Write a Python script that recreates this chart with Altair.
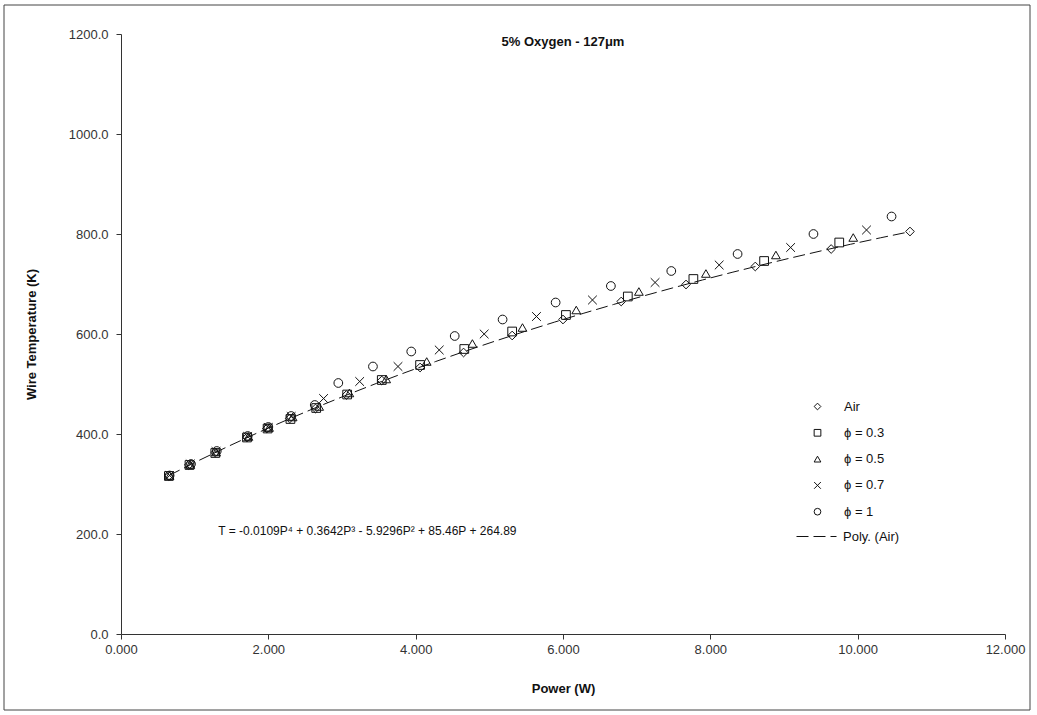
import altair as alt
import pandas as pd

series_names = ["Air", "ϕ = 0.3", "ϕ = 0.5", "ϕ = 0.7", "ϕ = 1"]

air_p = [0.65, 0.92, 1.28, 1.71, 1.98, 2.29, 2.64, 3.06, 3.54, 4.06, 4.65, 5.31, 6.00, 6.79, 7.67, 8.61, 9.64, 10.71]
air_t = [316, 338, 363, 393, 411, 431, 451, 478, 507, 533, 563, 597, 629, 665, 699, 735, 770, 805]

phi03_p = [0.65, 0.93, 1.28, 1.71, 1.99, 2.30, 2.65, 3.07, 3.54, 4.06, 4.66, 5.31, 6.04, 6.88, 7.77, 8.73, 9.75]
phi03_t = [316, 338, 362, 393, 411, 430, 452, 479, 508, 538, 570, 605, 638, 675, 710, 746, 783]

phi05_p = [0.66, 0.94, 1.29, 1.73, 2.01, 2.33, 2.69, 3.10, 3.60, 4.15, 4.77, 5.45, 6.18, 7.03, 7.94, 8.89, 9.94]
phi05_t = [317, 339, 364, 395, 413, 434, 455, 482, 510, 545, 581, 613, 648, 685, 721, 758, 793]

phi07_p = [0.66, 0.94, 1.29, 1.72, 2.00, 2.31, 2.75, 3.24, 3.76, 4.32, 4.93, 5.64, 6.40, 7.25, 8.12, 9.09, 10.12]
phi07_t = [317, 340, 365, 395, 413, 435, 471, 505, 535, 568, 600, 635, 668, 703, 738, 773, 808]

phi1_p = [0.66, 0.95, 1.30, 1.72, 2.00, 2.31, 2.63, 2.95, 3.42, 3.94, 4.53, 5.18, 5.90, 6.65, 7.47, 8.37, 9.40, 10.46]
phi1_t = [317, 340, 366, 396, 414, 436, 458, 502, 535, 565, 596, 629, 663, 696, 726, 760, 800, 835]

x_ticks = [0, 2, 4, 6, 8, 10, 12]
y_ticks = [0, 200, 400, 600, 800, 1000, 1200]

title_text = "5% Oxygen - 127μm"
equation = "T = -0.0109P⁴ + 0.3642P³ - 5.9296P² + 85.46P + 264.89"
trend_name = "Poly. (Air)"

rows = []
for name, ps, ts in zip(series_names,
                        [air_p, phi03_p, phi05_p, phi07_p, phi1_p],
                        [air_t, phi03_t, phi05_t, phi07_t, phi1_t]):
    for p, t in zip(ps, ts):
        rows.append({"P": p, "T": t, "series": name})
df = pd.DataFrame(rows)
air_df = pd.DataFrame({"P": air_p, "T": air_t})

FONT = "Liberation Sans"
x_cross = "M-1,-1L1,1M-1,1L1,-1"

xscale = alt.Scale(domain=[0, 12], nice=False, zero=False)
yscale = alt.Scale(domain=[0, 1200], nice=False)

xaxis = alt.Axis(values=x_ticks, format=".3f", title="Power (W)", titlePadding=26,
                 grid=False, labelFlush=False, labelPadding=4)
yaxis = alt.Axis(values=y_ticks, format=".1f", title="Wire Temperature (K)", titlePadding=30,
                 grid=False, labelFlush=False, labelPadding=8)

points = alt.Chart(df).mark_point(filled=False, color="#111", strokeWidth=1, size=76, opacity=1).encode(
    x=alt.X("P:Q", scale=xscale, axis=xaxis),
    y=alt.Y("T:Q", scale=yscale, axis=yaxis),
    shape=alt.Shape(
        "series:N",
        scale=alt.Scale(domain=series_names,
                        range=["diamond", "square", "triangle-up", x_cross, "circle"]),
        legend=alt.Legend(
            title=None, orient="none", legendX=690, legendY=366,
            symbolSize=45, symbolStrokeColor="#111", symbolFillColor="transparent",
            symbolStrokeWidth=1, labelFont=FONT, labelFontSize=13, labelColor="#111",
            labelOffset=20, rowPadding=12.3, padding=0,
        ),
    ),
)

trend = alt.Chart(air_df).transform_regression(
    "P", "T", method="poly", order=4
).transform_calculate(
    series=f"'{trend_name}'"
).mark_line(color="#111", strokeWidth=1).encode(
    x=alt.X("P:Q", scale=xscale),
    y=alt.Y("T:Q", scale=yscale),
    strokeDash=alt.StrokeDash(
        "series:N",
        scale=alt.Scale(domain=[trend_name], range=[[12, 5]]),
        legend=alt.Legend(
            title=None, orient="none", legendX=675, legendY=482,
            symbolType="stroke", symbolSize=1600, symbolStrokeColor="#111",
            symbolStrokeWidth=1, symbolDash=[16, 6], labelFont=FONT, labelFontSize=13,
            labelColor="#111", labelOffset=6, padding=0,
        ),
    ),
)

eq_text = alt.Chart(pd.DataFrame({"P": [1.32], "T": [206], "label": [equation]})).mark_text(
    align="left", baseline="middle", font=FONT, fontSize=12, color="#111"
).encode(
    x=alt.X("P:Q", scale=xscale),
    y=alt.Y("T:Q", scale=yscale),
    text="label:N",
)

title_mark = alt.Chart(alt.Data(values=[{"label": title_text}])).mark_text(
    align="center", baseline="middle", font=FONT, fontSize=13, fontWeight="bold", color="#111"
).encode(
    x=alt.value(442), y=alt.value(8), text="label:N"
)

border = alt.Chart(alt.Data(values=[{}])).mark_rect(
    fill="transparent", stroke="#444", strokeWidth=1
).encode(
    x=alt.value(-117), x2=alt.value(909), y=alt.value(-29), y2=alt.value(676)
)

chart = alt.layer(border, trend, points, eq_text, title_mark).properties(
    width=884,
    height=600,
    autosize="none",
    padding={"left": 121, "top": 34, "right": 32, "bottom": 81},
).configure(
    background="white"
).configure_view(
    stroke=None
).configure_axis(
    grid=False,
    domainColor="#333",
    tickColor="#333",
    tickSize=5,
    labelFont=FONT,
    labelFontSize=13,
    labelColor="#333",
    titleFont=FONT,
    titleFontSize=13,
    titleFontWeight="bold",
    titleColor="#111",
)

chart.save("out.html", embed_options={"renderer": "svg", "actions": False})
